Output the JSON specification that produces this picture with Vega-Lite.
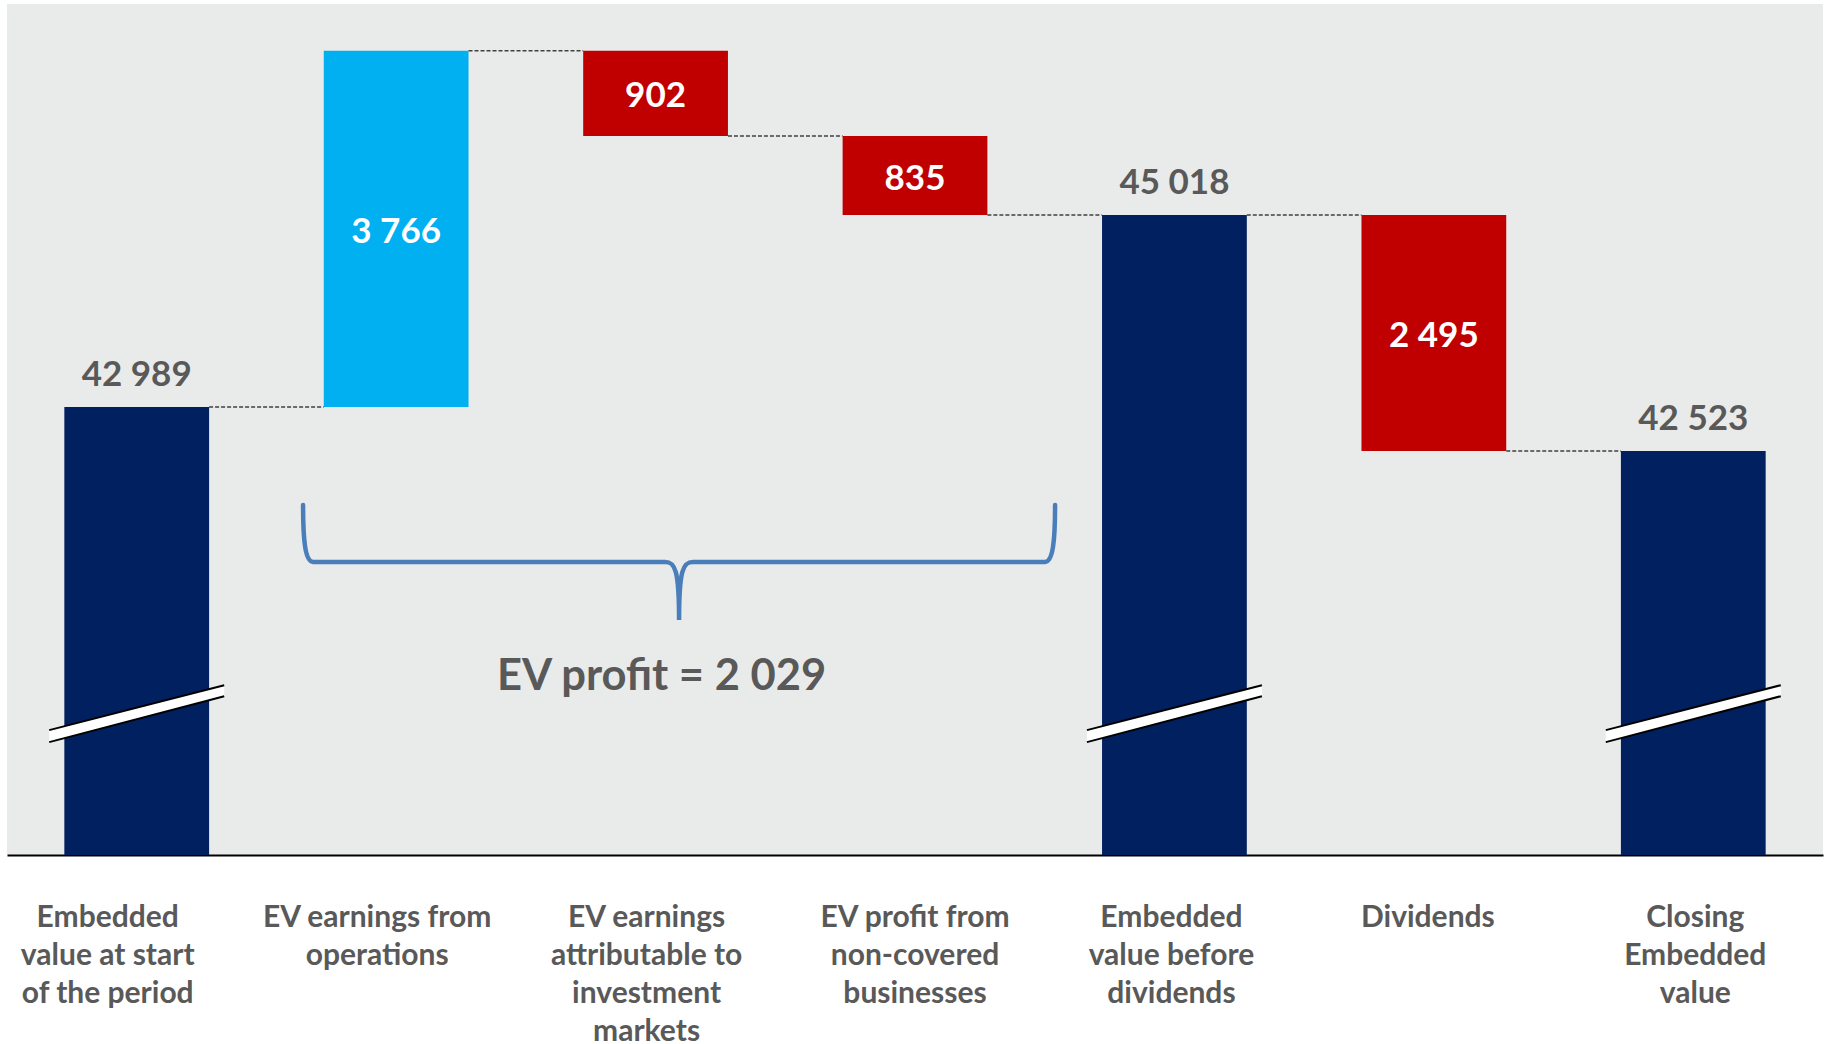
{
  "$schema": "https://vega.github.io/schema/vega-lite/v6.json",
  "width": 1816,
  "height": 851,
  "padding": {"left": 7, "top": 4, "right": 6, "bottom": 0},
  "background": "white",
  "config": {
    "view": {"fill": "#E9EBEA", "stroke": null},
    "locale": {"number": {"decimal": ".", "thousands": " ", "grouping": [3], "currency": ["", ""]}},
    "axis": {"labelFont": "Lato", "labelFontWeight": "bold", "labelFontSize": 30, "labelColor": "#595959", "labelLineHeight": 38, "labelBaseline": "top", "labelPadding": 47, "ticks": false, "tickSize": 0, "domainColor": "#000000", "domainWidth": 2, "grid": false, "labelLimit": 0, "labelAngle": 0},
    "text": {"font": "Lato"}
  },
  "datasets": {
    "steps": [
      {"step": "Embedded\nvalue at start\nof the period", "kind": "total", "amount": 42989, "start": 0, "end": 42989},
      {"step": "EV earnings from\noperations", "kind": "increase", "amount": 3766, "start": 42989, "end": 46755},
      {"step": "EV earnings\nattributable to\ninvestment\nmarkets", "kind": "decrease", "amount": 902, "start": 46755, "end": 45853},
      {"step": "EV profit from\nnon-covered\nbusinesses", "kind": "decrease", "amount": 835, "start": 45853, "end": 45018},
      {"step": "Embedded\nvalue before\ndividends", "kind": "total", "amount": 45018, "start": 0, "end": 45018},
      {"step": "Dividends", "kind": "decrease", "amount": 2495, "start": 45018, "end": 42523},
      {"step": "Closing\nEmbedded\nvalue", "kind": "total", "amount": 42523, "start": 0, "end": 42523}
    ],
    "connectors": [
      {"from": "Embedded\nvalue at start\nof the period", "to": "EV earnings from\noperations", "level": 42989},
      {"from": "EV earnings from\noperations", "to": "EV earnings\nattributable to\ninvestment\nmarkets", "level": 46755},
      {"from": "EV earnings\nattributable to\ninvestment\nmarkets", "to": "EV profit from\nnon-covered\nbusinesses", "level": 45853},
      {"from": "EV profit from\nnon-covered\nbusinesses", "to": "Embedded\nvalue before\ndividends", "level": 45018},
      {"from": "Embedded\nvalue before\ndividends", "to": "Dividends", "level": 45018},
      {"from": "Dividends", "to": "Closing\nEmbedded\nvalue", "level": 42523}
    ],
    "notes": [
      {"step": "EV earnings\nattributable to\ninvestment\nmarkets", "text": "EV profit = 2 029", "braceLevel": 41350, "textLevel": 40000}
    ]
  },
  "layer": [
    {
      "data": {"name": "steps"},
      "mark": {"type": "bar"},
      "encoding": {
        "x": {
          "field": "step", "type": "nominal", "title": null,
          "scale": {"domain": ["Embedded\nvalue at start\nof the period", "EV earnings from\noperations", "EV earnings\nattributable to\ninvestment\nmarkets", "EV profit from\nnon-covered\nbusinesses", "Embedded\nvalue before\ndividends", "Dividends", "Closing\nEmbedded\nvalue"], "paddingInner": 0.442, "paddingOuter": 0.221},
          "axis": {"labelExpr": "split(datum.label, '\\n')", "title": null, "labelOffset": {"expr": "[-29, -19, -9, 0, -3, -6, 2][round(datum.index * 6)]"}}
        },
        "y": {"field": "end", "type": "quantitative", "title": null, "scale": {"domain": [38250, 47250], "zero": false, "nice": false, "clamp": true}, "axis": null},
        "y2": {"field": "start"},
        "color": {"field": "kind", "type": "nominal", "scale": {"domain": ["total", "increase", "decrease"], "range": ["#002060", "#00B0F0", "#C00000"]}, "legend": null}
      }
    },
    {
      "data": {"name": "connectors"},
      "mark": {"type": "rule", "strokeDash": [4, 2], "color": "#404040", "strokeWidth": 1.5},
      "encoding": {
        "x": {"field": "from", "type": "nominal", "bandPosition": 1, "title": null},
        "x2": {"field": "to", "bandPosition": 0},
        "y": {"field": "level", "type": "quantitative", "title": null}
      }
    },
    {
      "data": {"name": "steps"},
      "transform": [{"filter": "datum.kind == 'total'"}],
      "mark": {"type": "point", "shape": "M-1,0.194L1,-0.32L1,-0.194L-1,0.331Z", "size": 30625, "filled": true, "fill": "#FFFFFF", "opacity": 1, "strokeWidth": 0},
      "encoding": {
        "x": {"field": "step", "type": "nominal", "title": null},
        "y": {"datum": 39750, "type": "quantitative"}
      }
    },
    {
      "data": {"name": "steps"},
      "transform": [{"filter": "datum.kind == 'total'"}],
      "mark": {"type": "point", "shape": "M-1,0.194L1,-0.32M-1,0.331L1,-0.194", "size": 30625, "filled": false, "stroke": "#000000", "opacity": 1, "strokeWidth": 2},
      "encoding": {
        "x": {"field": "step", "type": "nominal", "title": null},
        "y": {"datum": 39750, "type": "quantitative"}
      }
    },
    {
      "data": {"name": "steps"},
      "transform": [{"filter": "datum.kind == 'total'"}],
      "mark": {"type": "text", "dy": -21, "baseline": "alphabetic", "align": "center", "fontSize": 35, "fontWeight": "bold", "color": "#595959", "font": "Lato"},
      "encoding": {
        "x": {"field": "step", "type": "nominal", "title": null},
        "y": {"field": "end", "type": "quantitative"},
        "text": {"field": "amount", "type": "quantitative", "format": ",d"}
      }
    },
    {
      "data": {"name": "steps"},
      "transform": [
        {"filter": "datum.kind != 'total'"},
        {"fold": ["start", "end"], "as": ["edge", "v"]}
      ],
      "mark": {"type": "text", "baseline": "middle", "align": "center", "dy": 3, "fontSize": 35, "fontWeight": "bold", "color": "#FFFFFF", "font": "Lato"},
      "encoding": {
        "x": {"field": "step", "type": "nominal", "title": null},
        "y": {"aggregate": "mean", "field": "v", "type": "quantitative"},
        "text": {"field": "amount", "type": "quantitative", "format": ",d"}
      }
    },
    {
      "data": {"name": "notes"},
      "mark": {"type": "point", "shape": "M-3.525,-0.57C-3.525,-0.22,-3.505,0,-3.425,0L0.095,0C0.195,0,0.235,0.08,0.235,0.58C0.235,0.08,0.275,0,0.375,0L3.895,0C3.975,0,3.995,-0.22,3.995,-0.57", "size": 40000, "filled": false, "stroke": "#4A7EBB", "strokeWidth": 4.5, "strokeCap": "round", "opacity": 1},
      "encoding": {
        "x": {"field": "step", "type": "nominal", "title": null},
        "y": {"field": "braceLevel", "type": "quantitative"}
      }
    },
    {
      "data": {"name": "notes"},
      "mark": {"type": "text", "baseline": "alphabetic", "align": "center", "dx": 6, "fontSize": 43.5, "fontWeight": "bold", "color": "#595959", "font": "Lato"},
      "encoding": {
        "x": {"field": "step", "type": "nominal", "title": null},
        "y": {"field": "textLevel", "type": "quantitative"},
        "text": {"field": "text"}
      }
    }
  ]
}
